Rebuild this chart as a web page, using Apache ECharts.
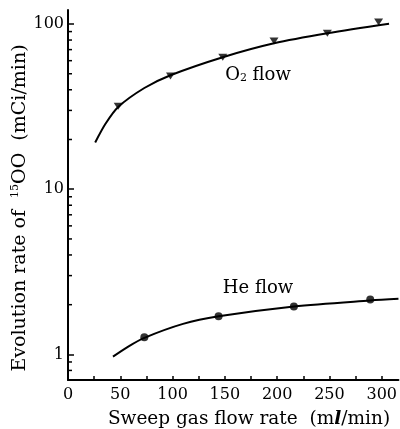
<!DOCTYPE html>
<html>
<head>
<meta charset="utf-8">
<script src="https://cdn.jsdelivr.net/npm/echarts@6/dist/echarts.min.js"></script>
<style>
  html, body { margin: 0; padding: 0; background: #fff; }
  #chart { width: 400px; height: 429px; }
</style>
</head>
<body>
<div id="chart"></div>
<script>
// Sweep gas flow rate (ml/min) vs. evolution rate of 15OO (mCi/min), log scale
const xTickLabels = [0, 50, 100, 150, 200, 250, 300];
const xTickValues = [0, 25, 50, 75, 100, 125, 150, 175, 200, 225, 250, 275, 300];
const yTickLabels = [1, 10, 100];
const yMinorTicks = [0.8, 0.9, 2, 3, 4, 5, 6, 7, 8, 9, 20, 30, 40, 50, 60, 70, 80, 90];

// O2 sweep: measured points and fitted curve
const o2Points = [[48, 31.8], [98, 48.4], [148, 63], [197, 79], [248, 88], [297, 103]];
const o2Curve = [[26, 19.2], [36, 25], [48, 31.5], [73, 41], [98, 49], [148, 63], [197, 76.5], [248, 88], [307, 100.5]];

// He sweep: measured points and fitted curve
const hePoints = [[73, 1.27], [144, 1.70], [216, 1.95], [289, 2.15]];
const heCurve = [[43, 0.97], [58, 1.12], [73, 1.26], [110, 1.53], [144, 1.70], [216, 1.95], [289, 2.12], [316, 2.17]];

const FONT = 'DejaVu Serif';

const chart = echarts.init(document.getElementById('chart'), null, { renderer: 'canvas' });

chart.setOption({
  animation: false,
  backgroundColor: '#fff',
  grid: { left: 68, right: 0, top: 10, bottom: 49, containLabel: false },
  xAxis: {
    type: 'value',
    min: 0,
    max: 316,
    axisLine: { show: true, lineStyle: { color: '#000', width: 2 } },
    axisTick: { show: true, inside: true, length: 4, customValues: xTickValues, lineStyle: { color: '#000', width: 1.5 } },
    axisLabel: { customValues: xTickLabels, margin: 7, color: '#000', fontFamily: FONT, fontSize: 16 },
    splitLine: { show: false }
  },
  yAxis: {
    type: 'log',
    logBase: 10,
    min: 0.7,
    max: 121.6,
    axisLine: { show: true, onZero: false, lineStyle: { color: '#000', width: 2 } },
    axisTick: { show: true, inside: true, length: 6, customValues: yTickLabels, lineStyle: { color: '#000', width: 1.5 } },
    axisLabel: { customValues: yTickLabels, margin: 4, color: '#000', fontFamily: FONT, fontSize: 16 },
    splitLine: { show: false }
  },
  graphic: [
    {
      type: 'text',
      x: 20, y: 208,
      rotation: Math.PI / 2,
      style: {
        text: 'Evolution rate of  {sup|15}OO  (mCi/min)',
        fontFamily: FONT, fontSize: 19, fill: '#000',
        align: 'center', verticalAlign: 'middle',
        rich: { sup: { fontFamily: FONT, fontSize: 11, verticalAlign: 'top', padding: [0, 0, 9, 0] } }
      }
    },
    {
      type: 'text',
      x: 249, y: 419,
      style: {
        text: 'Sweep gas flow rate  (m{it|l}/min)',
        fontFamily: FONT, fontSize: 18.5, fill: '#000',
        align: 'center', verticalAlign: 'middle',
        rich: { it: { fontFamily: FONT, fontSize: 18.5, fontStyle: 'italic', fontWeight: 'bold' } }
      }
    },
    {
      type: 'text',
      x: 258, y: 75,
      style: {
        text: 'O{sub|2} flow',
        fontFamily: FONT, fontSize: 18, fill: '#000',
        align: 'center', verticalAlign: 'middle',
        rich: { sub: { fontFamily: FONT, fontSize: 11, padding: [7, 0, 0, 0] } }
      }
    },
    {
      type: 'text',
      x: 258, y: 288,
      style: {
        text: 'He flow',
        fontFamily: FONT, fontSize: 18, fill: '#000',
        align: 'center', verticalAlign: 'middle'
      }
    }
  ],
  series: [
    {
      name: 'O2 curve', type: 'line', data: o2Curve, smooth: 0.3, showSymbol: false,
      lineStyle: { color: '#000', width: 2 }, clip: false, z: 2
    },
    {
      name: 'He curve', type: 'line', data: heCurve, smooth: 0.3, showSymbol: false,
      lineStyle: { color: '#000', width: 2 }, clip: false, z: 2
    },
    {
      name: 'O2 flow', type: 'scatter', data: o2Points, symbol: 'triangle', symbolRotate: 180,
      symbolSize: [9, 7], itemStyle: { color: '#000' }, z: 3
    },
    {
      name: 'He flow', type: 'scatter', data: hePoints, symbol: 'circle',
      symbolSize: 8, itemStyle: { color: '#000' }, z: 3
    },
    {
      // log-scale minor ticks along the y axis
      name: 'y minor ticks', type: 'custom', clip: false, silent: true,
      data: yMinorTicks.map(v => [0, v]),
      renderItem: function (params, api) {
        const p = api.coord([api.value(0), api.value(1)]);
        return {
          type: 'line',
          shape: { x1: p[0], y1: p[1], x2: p[0] + 4, y2: p[1] },
          style: { stroke: '#000', lineWidth: 1.5 }
        };
      }
    }
  ]
});
</script>
</body>
</html>
